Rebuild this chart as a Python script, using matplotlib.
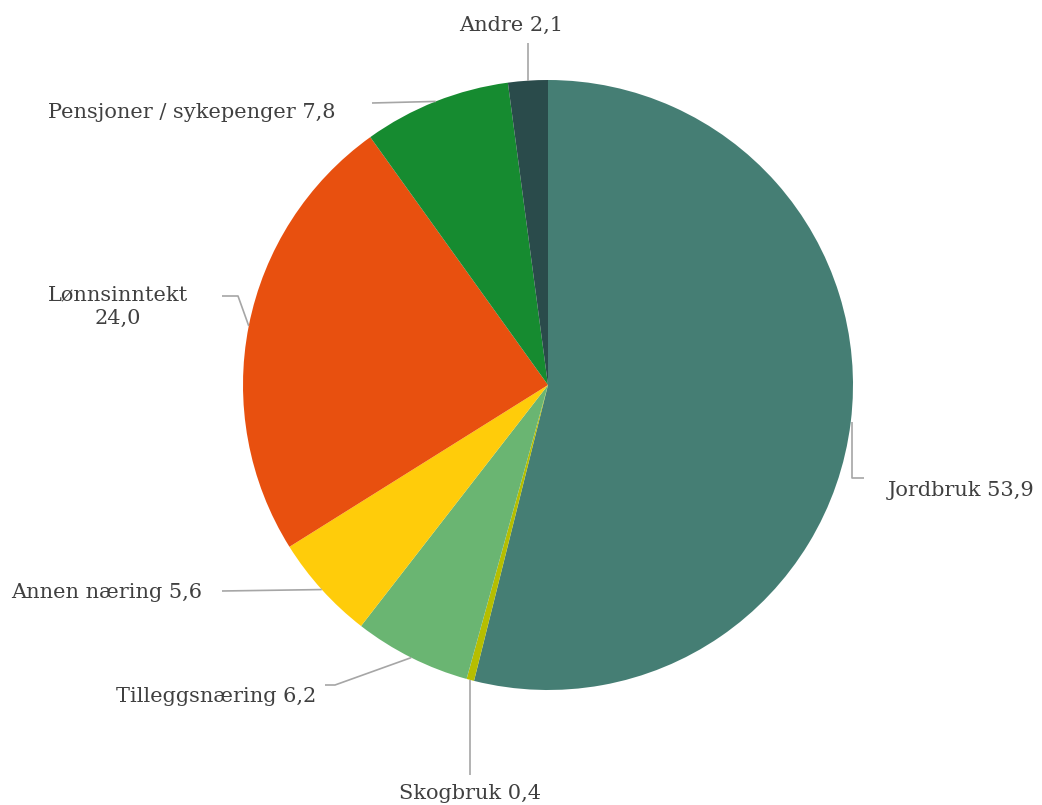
import numpy as np
import matplotlib
matplotlib.use("Agg")
import matplotlib.pyplot as plt

categories = ["Jordbruk", "Skogbruk", "Tilleggsnæring", "Annen næring",
              "Lønnsinntekt", "Pensjoner / sykepenger", "Andre"]
values = [53.9, 0.4, 6.2, 5.6, 24.0, 7.8, 2.1]
labels = ["Jordbruk 53,9", "Skogbruk 0,4", "Tilleggsnæring 6,2", "Annen næring 5,6",
          "Lønnsinntekt\n24,0", "Pensjoner / sykepenger 7,8", "Andre 2,1"]
colors = ["#457E74", "#B5BE00", "#6AB572", "#FFCC0A", "#E8500F", "#168B30", "#2A4B4B"]

W, H = 1042, 805
fig = plt.figure(figsize=(W / 100, H / 100), dpi=100)
ax = fig.add_axes([0, 0, 1, 1])

cx, cy, R = 548, H - 385, 305
wedges, _ = ax.pie(values, colors=colors, startangle=90, counterclock=False,
                   center=(cx, cy), radius=R, frame=True,
                   wedgeprops=dict(linewidth=0))
ax.set_xlim(0, W)
ax.set_ylim(0, H)
ax.set_aspect("equal")
ax.axis("off")

font = dict(family=["DejaVu Serif"], size=15, color="#404040")
lc = "#A6A6A6"

def anchor(w):
    a = np.deg2rad((w.theta1 + w.theta2) / 2)
    return cx + R * np.cos(a), cy + R * np.sin(a)

def yy(p):
    return H - p

specs = {
    "Jordbruk": (lambda x, y: ([x + 1, x + 1, x + 13], [y, yy(478), yy(478)]), (888, yy(490)), "left", "center"),
    "Skogbruk": (lambda x, y: ([x, x], [y, yy(775)]), (470, yy(793)), "center", "center"),
    "Tilleggsnæring": (lambda x, y: ([x, 335, 325], [y, yy(685), yy(685)]), (316, yy(697)), "right", "center"),
    "Annen næring": (lambda x, y: ([x, 222], [y, yy(591)]), (202, yy(593)), "right", "center"),
    "Lønnsinntekt": (lambda x, y: ([x, 238, 222], [y, yy(296), yy(296)]), (118, yy(307)), "center", "center"),
    "Pensjoner / sykepenger": (lambda x, y: ([x, 372], [y, yy(103)]), (335, yy(113)), "right", "center"),
    "Andre": (lambda x, y: ([x, x], [y, yy(43)]), (511, yy(25)), "center", "center"),
}

for w, cat, lab in zip(wedges, categories, labels):
    x, y = anchor(w)
    path, pos, ha, va = specs[cat]
    xs, ys = path(x, y)
    ax.plot(xs, ys, color=lc, lw=1.2, solid_capstyle="butt")
    ax.text(pos[0], pos[1], lab, ha=ha, va=va, multialignment="center",
            linespacing=1.3, **font)

fig.savefig("out.png", dpi=100, facecolor="white")
